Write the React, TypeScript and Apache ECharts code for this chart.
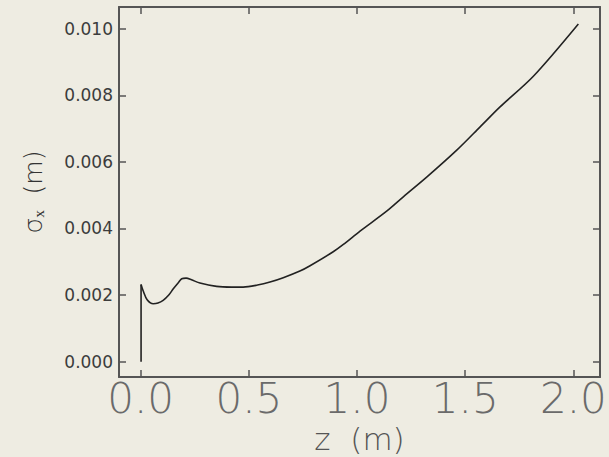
import React, { useEffect, useRef } from "react";
import * as echarts from "echarts";

const zValues = [0.002, 0.002, 0.012, 0.03, 0.058, 0.08, 0.104, 0.13, 0.151, 0.175, 0.19, 0.21, 0.235, 0.274, 0.351, 0.42, 0.474, 0.54, 0.598, 0.659, 0.736, 0.783, 0.89, 0.937, 1.014, 1.137, 1.214, 1.322, 1.461, 1.569, 1.661, 1.815, 2.023];
const sigmaX = [0, 0.00232, 0.00212, 0.00186, 0.00174, 0.00176, 0.00184, 0.002, 0.00219, 0.00238, 0.00249, 0.00251, 0.00246, 0.00236, 0.00226, 0.00224, 0.00224, 0.0023, 0.00239, 0.00252, 0.00272, 0.00288, 0.0033, 0.00352, 0.00392, 0.00452, 0.00495, 0.00554, 0.00635, 0.00705, 0.00765, 0.00857, 0.01014];
const xTicks = [0, 0.5, 1.0, 1.5, 2.0];
const yTicks = [0, 0.002, 0.004, 0.006, 0.008, 0.01];

const X_MIN = -0.1;
const X_MAX = 2.123;
const Y_MIN = -0.00046;
const Y_MAX = 0.01065;

export default function App() {
  const ref = useRef<HTMLDivElement>(null);
  useEffect(() => {
    document.body.style.margin = "0";
    const chart = echarts.init(ref.current!, null, { renderer: "svg" });
    const axisLine = { show: true, onZero: false, lineStyle: { color: "#555", width: 2 } };
    const tickStyle = { color: "#555", width: 1.5 };
    const font = "DejaVu Sans";
    const points = zValues.map((z, i) => [z, sigmaX[i]]);
    chart.setOption({
      animation: false,
      backgroundColor: "#EEECE2",
      grid: { left: 119, top: 7, right: 9, bottom: 80, containLabel: false, outerBoundsMode: "none" },
      xAxis: [
        {
          type: "value", min: X_MIN, max: X_MAX, position: "bottom",
          axisLine, splitLine: { show: false },
          axisTick: { show: true, inside: true, length: 7, customValues: xTicks, lineStyle: tickStyle },
          axisLabel: { show: true, customValues: xTicks, formatter: (v: number) => v.toFixed(1), fontSize: 42, color: "#6a6a6a", fontFamily: font, fontWeight: 200, margin: 0 },
          name: "z  (m)", nameLocation: "middle", nameGap: 30,
          nameTextStyle: { fontSize: 31, color: "#555", fontFamily: font, fontWeight: 200 },
        },
        {
          type: "value", min: X_MIN, max: X_MAX, position: "top",
          axisLine, splitLine: { show: false },
          axisTick: { show: true, inside: true, length: 7, customValues: xTicks, lineStyle: tickStyle },
          axisLabel: { show: false },
        },
      ],
      yAxis: [
        {
          type: "value", min: Y_MIN, max: Y_MAX, position: "left",
          axisLine, splitLine: { show: false },
          axisTick: { show: true, inside: true, length: 7, customValues: yTicks, lineStyle: tickStyle },
          axisLabel: { show: true, customValues: yTicks, formatter: (v: number) => v.toFixed(3), fontSize: 17, color: "#3c3c3c", fontFamily: font, margin: 6 },
          name: "σₓ  (m)", nameLocation: "middle", nameGap: 73,
          nameTextStyle: { fontSize: 25, color: "#333", fontFamily: font, fontWeight: 200 },
        },
        {
          type: "value", min: Y_MIN, max: Y_MAX, position: "right",
          axisLine, splitLine: { show: false },
          axisTick: { show: true, inside: true, length: 7, customValues: yTicks, lineStyle: tickStyle },
          axisLabel: { show: false },
        },
      ],
      series: [
        {
          type: "line",
          xAxisIndex: 0,
          yAxisIndex: 0,
          data: points.slice(0, 2),
          smooth: false,
          showSymbol: false,
          lineStyle: { color: "#222", width: 1.6 },
        },
        {
          type: "line",
          xAxisIndex: 0,
          yAxisIndex: 0,
          data: points.slice(1),
          smooth: 0.3,
          showSymbol: false,
          lineStyle: { color: "#222", width: 1.6 },
        },
      ],
    });
    return () => chart.dispose();
  }, []);
  return <div ref={ref} style={{ position: "fixed", left: 0, top: 0, width: 609, height: 457 }} />;
}
